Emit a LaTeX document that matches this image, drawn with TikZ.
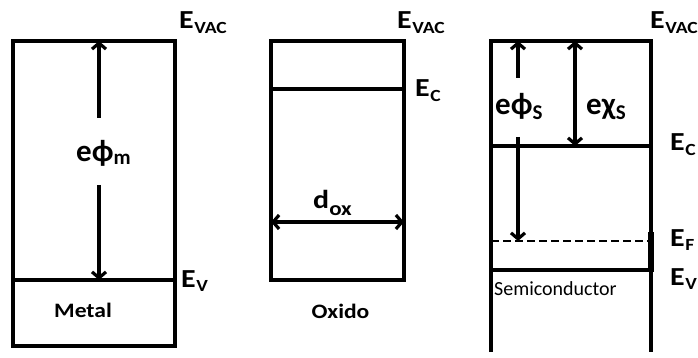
\documentclass[tikz,border=0pt]{standalone}
\usepackage{fontspec}
\setmainfont{Carlito}
\newfontfamily\widefont[FakeStretch=1.15]{Carlito}
\usetikzlibrary{arrows.meta}
\newcommand\lev[2]{{\widefont\fontsize{26}{26}\selectfont\bfseries #1\kern0.5pt\raisebox{-4.5pt}{\fontsize{17}{17}\selectfont #2}}}
\newcommand\sym[3]{{\fontsize{31}{31}\selectfont\bfseries #1\raisebox{-#3}{\fontsize{21}{21}\selectfont #2}}}
\begin{document}
\begin{tikzpicture}[x=1pt,y=-1pt,
  wall/.style={line width=3.2pt},
  arr/.style={line width=3.2pt,-{Straight Barb[length=6pt,width=14pt]}},
  darr/.style={line width=3.2pt,{Straight Barb[length=6pt,width=14pt]}-{Straight Barb[length=6pt,width=14pt]}},
  lbl/.style={anchor=base west,inner sep=0pt},
  mat/.style={anchor=base,inner sep=0pt,font=\widefont\fontsize{20.5}{20.5}\selectfont\bfseries}]
\useasboundingbox (0,0) rectangle (698,358);
\clip (0,0) rectangle (698,358);
% ---- Metal ----
\draw[wall] (13,41) rectangle (175,346);
\draw[wall] (13,280) -- (175,280);
\coordinate (mtop) at (99,41);
\coordinate (mev) at (99,280);
\coordinate (ma1) at (99,118);
\coordinate (ma2) at (99,185);
\draw[arr] (ma1) -- (mtop);
\draw[arr] (ma2) -- (mev);
\node[lbl] (phim) at (76,161) {\sym{eϕ}{m}{4pt}};
\node[lbl] (mvac) at (179,29) {\lev{E}{VAC}};
\node[lbl] (mev-l) at (181,287) {\lev{E}{V}};
\node[mat] (metal) at (83,317) {Metal};
% ---- Oxide ----
\draw[wall] (271,41) rectangle (404,280);
\draw[wall] (271,89) -- (404,89);
\coordinate (oxl) at (271,222);
\coordinate (oxr) at (404,222);
\draw[darr] (oxl) -- (oxr);
\node[lbl] (dox) at (313,208) {{\widefont\fontsize{26}{26}\selectfont\bfseries d\raisebox{-7pt}{\fontsize{20}{20}\selectfont ox}}};
\node[lbl] (ovac) at (397,29) {\lev{E}{VAC}};
\node[lbl] (oec) at (415,97) {\lev{E}{C}};
\node[mat] (oxido) at (340.5,318) {Oxido};
% ---- Semiconductor ----
\draw[wall] (491,352) -- (491,41) -- (651,41) -- (651,352);
\draw[wall] (491,146) -- (651,146);
\draw[wall] (491,270) -- (651,270);
\draw[line width=1.4pt,dash pattern=on 8pt off 4pt] (491,241) -- (651,241);
\draw[line width=5.5pt] (651,232) -- (651,272);
\coordinate (stop1) at (518,41);
\coordinate (sef) at (518,241);
\coordinate (sa1) at (518,78);
\coordinate (sa2) at (518,137);
\draw[arr] (sa1) -- (stop1);
\draw[arr] (sa2) -- (sef);
\coordinate (stop2) at (575,41);
\coordinate (sec) at (575,146);
\draw[darr] (stop2) -- (sec);
\node[lbl] (phis) at (495,115) {\sym{eϕ}{S}{5pt}};
\node[lbl] (chis) at (586,115) {\sym{eχ}{S}{5pt}};
\node[lbl] (svac) at (650,29) {\lev{E}{VAC}};
\node[lbl] (sec-l) at (670,151) {\lev{E}{C}};
\node[lbl] (sef-l) at (670,246) {\lev{E}{F}};
\node[lbl] (sev-l) at (670,285) {\lev{E}{V}};
\node[anchor=base west,inner sep=0pt,font=\fontsize{20}{20}\selectfont] (semi) at (494,295) {Semiconductor};
\end{tikzpicture}
\end{document}
